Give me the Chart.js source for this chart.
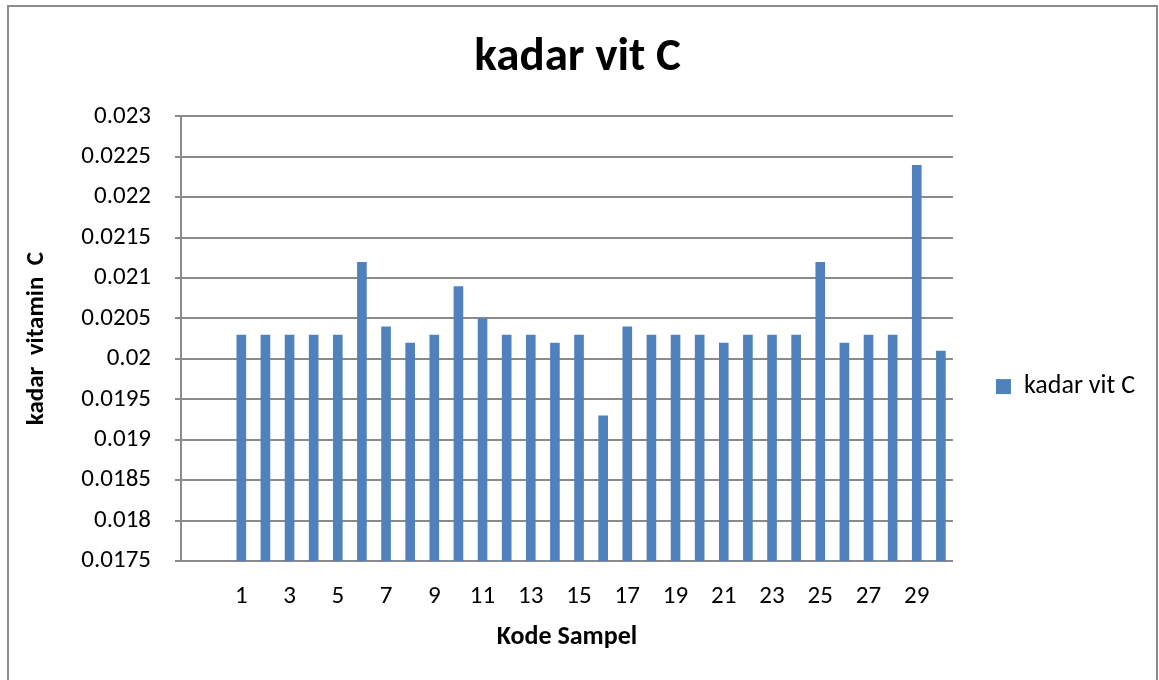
<!DOCTYPE html>
<html>
<head>
<meta charset="utf-8">
<script src="https://cdn.jsdelivr.net/npm/chart.js@4"></script>
<style>
  html, body { margin: 0; padding: 0; background: #fff; }
  #wrap { width: 1159px; height: 680px; position: relative; }
</style>
</head>
<body>
<div id="wrap"><canvas id="myChart" width="1159" height="680"></canvas></div>
<script>
// two empty categories before sample 1, as in the original sheet
const categories = ['', '', '1', '2', '3', '4', '5', '6', '7', '8', '9', '10',
    '11', '12', '13', '14', '15', '16', '17', '18', '19', '20',
    '21', '22', '23', '24', '25', '26', '27', '28', '29', '30'];

const kadarVitC = [null, null,
    0.0203, 0.0203, 0.0203, 0.0203, 0.0203, 0.0212, 0.0204, 0.0202, 0.0203, 0.0209,
    0.0205, 0.0203, 0.0203, 0.0202, 0.0203, 0.0193, 0.0204, 0.0203, 0.0203, 0.0203,
    0.0202, 0.0203, 0.0203, 0.0203, 0.0212, 0.0202, 0.0203, 0.0203, 0.0224, 0.0201];

const yMin = 0.0175;
const yMax = 0.023;
const yStep = 0.0005;

const fontFamily = 'Carlito, Lato, sans-serif';
const gridColor = '#8a8a8a';

const frame = {
    id: 'frame',
    beforeDraw(chart) {
        const c = chart.ctx;
        c.save();
        c.fillStyle = '#fff';
        c.fillRect(0, 0, chart.width, chart.height);
        c.strokeStyle = gridColor;
        c.lineWidth = 2;
        c.strokeRect(8, 6, chart.width - 10, chart.height + 10);
        c.restore();
    }
};

const ctx = document.getElementById('myChart');

const myBarChart = new Chart(ctx, {
    type: 'bar',
    data: {
        labels: categories,
        datasets: [{
            label: 'kadar vit C',
            data: kadarVitC,
            backgroundColor: '#4F81BD',
            borderWidth: 0,
            barPercentage: 0.4,
            categoryPercentage: 1
        }]
    },
    options: {
        responsive: false,
        animation: false,
        layout: {
            padding: { left: 10, right: 14, top: 0, bottom: 0 }
        },
        plugins: {
            title: {
                display: true,
                text: 'kadar vit C',
                color: '#000',
                font: { family: fontFamily, size: 47, weight: 'bold' },
                padding: { top: 30, bottom: 30 }
            },
            legend: {
                position: 'right',
                maxWidth: 206,
                title: {
                    // empty title only pushes the entry down to the middle of the whole chart
                    display: true,
                    text: '',
                    font: { size: 1 },
                    padding: { top: 46, bottom: 46 }
                },
                labels: {
                    color: '#000',
                    boxWidth: 15,
                    boxHeight: 15,
                    padding: 43,
                    font: { family: fontFamily, size: 26 }
                }
            },
            tooltip: { enabled: false }
        },
        scales: {
            x: {
                grid: { display: false, drawTicks: false },
                border: { display: true, color: gridColor, width: 2 },
                ticks: {
                    color: '#000',
                    autoSkip: false,
                    maxRotation: 0,
                    padding: 21,
                    font: { family: fontFamily, size: 25 },
                    callback: function (value, index) {
                        return index % 2 === 0 ? categories[index] : '';
                    }
                },
                title: {
                    display: true,
                    text: 'Kode Sampel',
                    color: '#000',
                    font: { family: fontFamily, size: 26, weight: 'bold' },
                    padding: { top: 0, bottom: 27 }
                },
                afterFit: function (scale) {
                    scale.height = 119;
                }
            },
            y: {
                min: yMin,
                max: yMax,
                grid: {
                    color: gridColor,
                    lineWidth: 2,
                    drawTicks: true,
                    tickLength: 6
                },
                border: { display: true, color: gridColor, width: 2 },
                ticks: {
                    stepSize: yStep,
                    color: '#000',
                    padding: 24,
                    font: { family: fontFamily, size: 25 },
                    callback: function (value) {
                        return String(Number(value.toFixed(4)));
                    }
                },
                title: {
                    display: true,
                    text: 'kadar  vitamin  C',
                    color: '#000',
                    font: { family: fontFamily, size: 25, weight: 'bold' },
                    padding: { top: 12, bottom: 0 }
                },
                afterFit: function (scale) {
                    scale.width = 171;
                }
            }
        }
    },
    plugins: [frame]
});
</script>
</body>
</html>
